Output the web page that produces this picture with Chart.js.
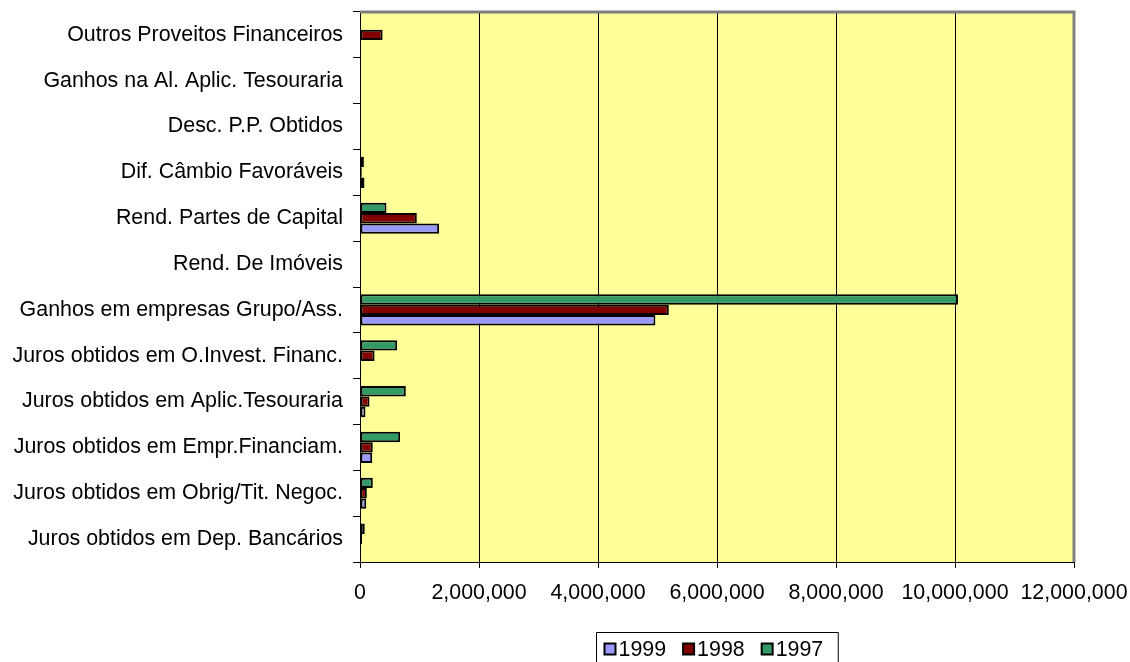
<!DOCTYPE html>
<html>
<head>
<meta charset="utf-8">
<script src="https://cdn.jsdelivr.net/npm/chart.js@4/dist/chart.umd.min.js"></script>
<style>
  html, body { margin: 0; padding: 0; background: #ffffff; }
  #wrap { width: 1130px; height: 662px; position: relative; }
</style>
</head>
<body>
<div id="wrap"><canvas id="c" width="1130" height="662"></canvas></div>
<script>
// Income categories, listed from top to bottom
const categories = [
  'Outros Proveitos Financeiros',
  'Ganhos na Al. Aplic. Tesouraria',
  'Desc. P.P. Obtidos',
  'Dif. Câmbio Favoráveis',
  'Rend. Partes de Capital',
  'Rend. De Imóveis',
  'Ganhos em empresas Grupo/Ass.',
  'Juros obtidos em O.Invest. Financ.',
  'Juros obtidos em Aplic.Tesouraria',
  'Juros obtidos em Empr.Financiam.',
  'Juros obtidos em Obrig/Tit. Negoc.',
  'Juros obtidos em Dep. Bancários'
];

// Yearly values per category (same order as categories)
const values1997 = [0, 0, 0, 65000, 445000, 0, 10050000, 625000, 770000, 675000, 215000, 80000];
const values1998 = [380000, 0, 0, 30000, 955000, 0, 5190000, 245000, 160000, 215000, 115000, 35000];
const values1999 = [0, 0, 0, 75000, 1330000, 0, 4965000, 20000, 92000, 205000, 105000, 15000];

// Value axis ticks
const xTicks = [0, 2000000, 4000000, 6000000, 8000000, 10000000, 12000000];

const FONT = 'Liberation Sans, Arial, sans-serif';
const FONT_SIZE = 21.4;

// Yellow plot background
const plotBackground = {
  id: 'plotBackground',
  beforeDraw(chart) {
    const { ctx, chartArea: a } = chart;
    ctx.save();
    ctx.fillStyle = '#FFFF99';
    ctx.fillRect(a.left, a.top, a.right - a.left, a.bottom - a.top);
    ctx.restore();
  }
};

// Grey frame on the top and right of the plot area
const plotFrame = {
  id: 'plotFrame',
  afterDatasetsDraw(chart) {
    const { ctx, chartArea: a } = chart;
    ctx.save();
    ctx.strokeStyle = '#808080';
    ctx.lineWidth = 3;
    ctx.beginPath();
    ctx.moveTo(a.left, a.top);
    ctx.lineTo(a.right, a.top);
    ctx.lineTo(a.right, a.bottom);
    ctx.stroke();
    ctx.restore();
  }
};

// Boxed legend centred under the plot, newest year first
const boxedLegend = {
  id: 'boxedLegend',
  afterDraw(chart) {
    const { ctx, chartArea: a } = chart;
    const items = chart.data.datasets.slice().reverse();
    ctx.save();
    ctx.font = FONT_SIZE + 'px ' + FONT;
    const box = 11, gapBox = 3, gapItem = 17;
    let total = 0;
    const widths = items.map(d => ctx.measureText(d.label).width);
    widths.forEach((w, i) => { total += box + gapBox + w + (i < items.length - 1 ? gapItem : 0); });
    const padL = 8, padR = 15;
    const frameW = total + padL + padR;
    const cx = (a.left + a.right) / 2;
    const left = Math.round(cx - frameW / 2) + 0.5;
    const top = 632.5;
    ctx.strokeStyle = '#000';
    ctx.lineWidth = 1;
    ctx.beginPath();
    ctx.moveTo(left, chart.height + 2);
    ctx.lineTo(left, top);
    ctx.lineTo(left + frameW, top);
    ctx.lineTo(left + frameW, chart.height + 2);
    ctx.stroke();
    let x = left + padL;
    const cy = 649;
    items.forEach((d, i) => {
      ctx.fillStyle = d.backgroundColor;
      ctx.fillRect(x, cy - box / 2, box, box);
      ctx.lineWidth = 2;
      ctx.strokeStyle = '#000';
      ctx.strokeRect(x, cy - box / 2, box, box);
      ctx.fillStyle = '#000';
      ctx.textBaseline = 'middle';
      ctx.textAlign = 'left';
      ctx.fillText(d.label, x + box + gapBox, cy + 1);
      x += box + gapBox + widths[i] + gapItem;
    });
    ctx.restore();
  }
};

const barStyle = {
  borderColor: '#000000',
  borderWidth: 2,
  borderSkipped: false,
  categoryPercentage: 0.68,
  barPercentage: 1.0
};

new Chart(document.getElementById('c'), {
  type: 'bar',
  data: {
    labels: categories,
    datasets: [
      Object.assign({ label: '1997', data: values1997, backgroundColor: '#339966' }, barStyle),
      Object.assign({ label: '1998', data: values1998, backgroundColor: '#800000' }, barStyle),
      Object.assign({ label: '1999', data: values1999, backgroundColor: '#9999FF' }, barStyle)
    ]
  },
  options: {
    indexAxis: 'y',
    responsive: false,
    animation: false,
    devicePixelRatio: 1,
    layout: { padding: { top: 12, right: 56, bottom: 0, left: 0 } },
    plugins: {
      legend: { display: false },
      tooltip: { enabled: false }
    },
    scales: {
      x: {
        min: xTicks[0],
        max: xTicks[xTicks.length - 1],
        afterBuildTicks(scale) {
          scale.ticks = xTicks.map(v => ({ value: v }));
        },
        afterFit(scale) {
          scale.height = 100;
          scale.paddingLeft = 0;
          scale.paddingRight = 0;
        },
        border: { display: true, color: '#000000', width: 1 },
        grid: {
          color: '#000000',
          lineWidth: 1,
          drawTicks: true,
          tickLength: 6,
          tickColor: '#000000'
        },
        ticks: {
          color: '#000000',
          font: { family: FONT, size: FONT_SIZE },
          padding: 12,
          maxRotation: 0,
          autoSkip: false,
          callback: v => Number(v).toLocaleString('en-US')
        }
      },
      y: {
        afterFit(scale) {
          scale.width = 360;
          scale.paddingTop = 0;
          scale.paddingBottom = 0;
        },
        border: { display: true, color: '#000000', width: 1 },
        grid: {
          drawOnChartArea: false,
          drawTicks: true,
          tickLength: 7,
          color: '#000000',
          offset: true
        },
        ticks: {
          color: '#000000',
          font: { family: FONT, size: FONT_SIZE },
          padding: 10,
          autoSkip: false
        }
      }
    }
  },
  plugins: [plotBackground, plotFrame, boxedLegend]
});
</script>
</body>
</html>
